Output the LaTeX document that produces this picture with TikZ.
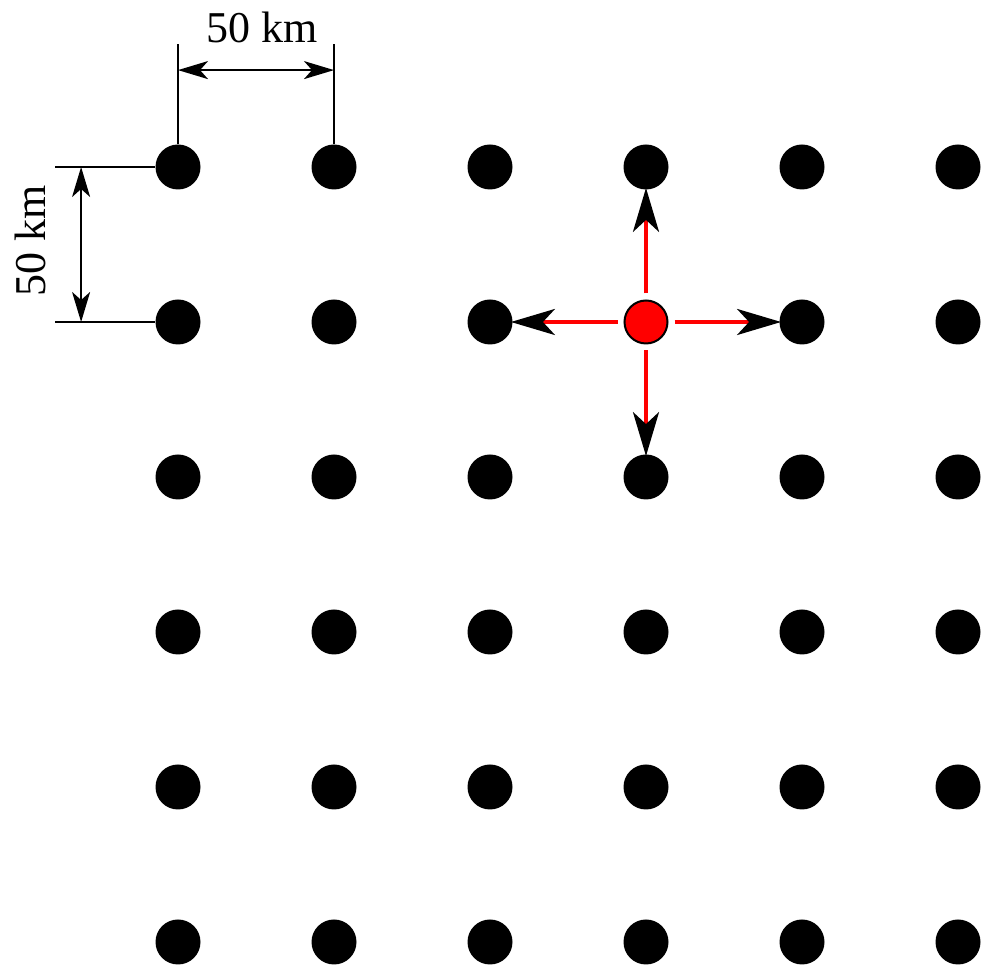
\documentclass[tikz,border=0pt]{standalone}
\usepackage{fontspec}
\setmainfont{Liberation Serif}
\usetikzlibrary{arrows.meta,calc}
\begin{document}
\begin{tikzpicture}[x=0.5pt,y=-0.5pt,
  dot/.style={circle,fill=black,inner sep=0pt,minimum size=22.5pt},
  reddot/.style={circle,fill=red,draw=black,line width=1pt,inner sep=0pt,minimum size=21.5pt},
  dimline/.style={line width=1pt,black},
  dimarrow/.style={line width=1pt,black,{Stealth[length=15pt,width=9pt,inset=4pt]}-{Stealth[length=15pt,width=9pt,inset=4pt]}},
  redarrow/.style={line width=2pt,red,-{Stealth[length=22pt,width=13pt,inset=6pt,color=black]},shorten <=3pt,shorten >=-1pt},
  lbl/.style={font=\fontsize{22pt}{26pt}\selectfont,inner sep=0pt}]
\useasboundingbox (0,0) rectangle (982,972);
\foreach \i in {1,...,6}{
  \foreach \j in {1,...,6}{
    \pgfmathsetmacro{\xx}{178+156*(\i-1)}
    \pgfmathsetmacro{\yy}{167+155*(\j-1)}
    \ifnum\i=4 \ifnum\j=2 \else
      \node[dot] (d-\i-\j) at (\xx,\yy) {};
    \fi\else
      \node[dot] (d-\i-\j) at (\xx,\yy) {};
    \fi
  }
}
\node[reddot] (c) at (646,322) {};
% red arrows
\draw[redarrow] (c) -- (d-4-1);
\draw[redarrow] (c) -- (d-4-3);
\draw[redarrow] (c) -- (d-3-2);
\draw[redarrow] (c) -- (d-5-2);
% horizontal dimension
\coordinate (t1) at ($(d-1-1.north)+(0,-100)$);
\coordinate (t2) at ($(d-2-1.north)+(0,-100)$);
\draw[dimline] (d-1-1.north) -- (t1);
\draw[dimline] (d-2-1.north) -- (t2);
\coordinate (a1) at ($(d-1-1.north)+(0,-74)$);
\coordinate (a2) at ($(d-2-1.north)+(0,-74)$);
\draw[dimarrow] (a1) -- (a2);
\node[lbl] (h) at (262,27) {50 km};
% vertical dimension
\coordinate (l1) at ($(d-1-1.west)+(-100,0)$);
\coordinate (l2) at ($(d-1-2.west)+(-100,0)$);
\draw[dimline] (d-1-1.west) -- (l1);
\draw[dimline] (d-1-2.west) -- (l2);
\coordinate (b1) at ($(d-1-1.west)+(-74,0)$);
\coordinate (b2) at ($(d-1-2.west)+(-74,0)$);
\draw[dimarrow] (b1) -- (b2);
\node[lbl,rotate=90] (v) at (30,241) {50 km};
\end{tikzpicture}
\end{document}
